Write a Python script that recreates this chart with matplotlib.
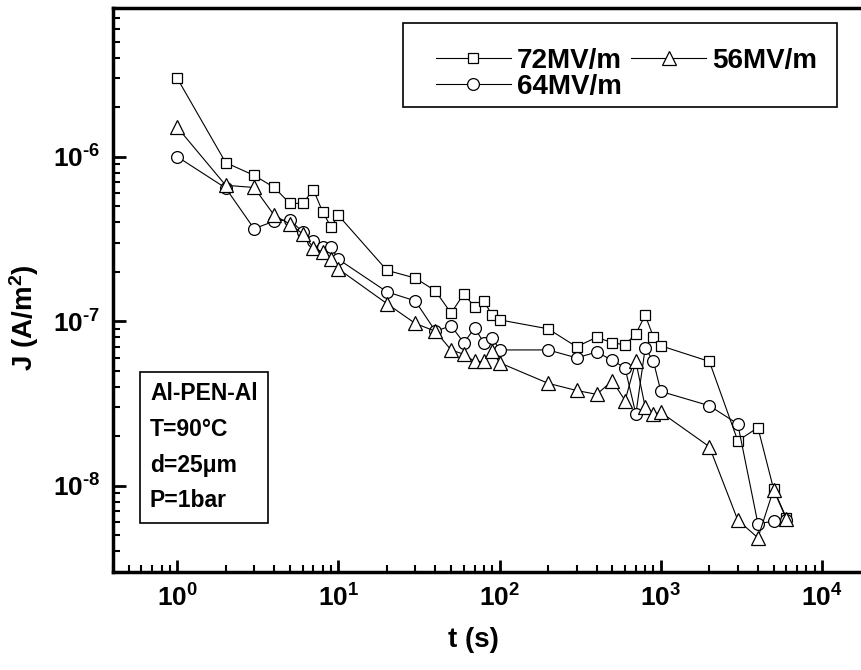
import math
import matplotlib
matplotlib.use("Agg")
import matplotlib.pyplot as plt
from matplotlib.patches import Rectangle
from matplotlib.ticker import LogLocator, FuncFormatter, NullFormatter

plt.rcParams["font.family"] = ["Liberation Sans", "DejaVu Sans"]
plt.rcParams["font.weight"] = "bold"
plt.rcParams["mathtext.fontset"] = "custom"
plt.rcParams["mathtext.rm"] = "Liberation Sans:bold"
plt.rcParams["mathtext.bf"] = "Liberation Sans:bold"
plt.rcParams["mathtext.it"] = "Liberation Sans:bold"

# time points (s)
t = [1, 2, 3, 4, 5, 6, 7, 8, 9, 10,
     20, 30, 40, 50, 60, 70, 80, 90, 100,
     200, 300, 400, 500, 600, 700, 800, 900, 1000,
     2000, 3000, 4000, 5000, 6000]

# current density (A/m^2)
j72 = [3.0e-6, 9.2e-7, 7.7e-7, 6.5e-7, 5.2e-7, 5.2e-7, 6.3e-7, 4.6e-7, 3.75e-7, 4.4e-7,
       2.04e-7, 1.83e-7, 1.53e-7, 1.12e-7, 1.47e-7, 1.22e-7, 1.32e-7, 1.09e-7, 1.02e-7,
       9.0e-8, 7.0e-8, 8.0e-8, 7.4e-8, 7.2e-8, 8.4e-8, 1.09e-7, 8.0e-8, 7.1e-8,
       5.7e-8, 1.88e-8, 2.26e-8, 9.6e-9, 6.4e-9]
j56 = [1.51e-6, 6.7e-7, 6.5e-7, 4.4e-7, 3.9e-7, 3.4e-7, 2.8e-7, 2.63e-7, 2.4e-7, 2.08e-7,
       1.28e-7, 9.7e-8, 8.7e-8, 6.7e-8, 6.3e-8, 5.7e-8, 5.7e-8, 6.6e-8, 5.6e-8,
       4.2e-8, 3.8e-8, 3.6e-8, 4.35e-8, 3.3e-8, 5.7e-8, 3.0e-8, 2.73e-8, 2.8e-8,
       1.73e-8, 6.2e-9, 4.84e-9, 9.5e-9, 6.3e-9]
j64 = [1.0e-6, 6.45e-7, 3.65e-7, 4.06e-7, 4.15e-7, 3.48e-7, 3.07e-7, 2.84e-7, 2.82e-7, 2.38e-7,
       1.51e-7, 1.33e-7, 8.7e-8, 9.4e-8, 7.4e-8, 9.1e-8, 7.4e-8, 7.9e-8, 6.7e-8,
       6.7e-8, 6.0e-8, 6.5e-8, 5.8e-8, 5.2e-8, 2.73e-8, 6.9e-8, 5.7e-8, 3.75e-8,
       3.07e-8, 2.38e-8, 5.9e-9, 6.1e-9, 6.2e-9]

fig = plt.figure(figsize=(8.62, 6.70), dpi=100)
# the right part of the frame is cut off in the original
ax = fig.add_axes([113 / 862, 98 / 670, 786 / 862, 564 / 670])

style = dict(color="black", lw=0.8, mfc="white", mec="black", mew=0.9)
ax.plot(t, j72, marker="s", ms=7.5, label="72MV/m", **style)
ax.plot(t, j64, marker="o", ms=8.5, label="64MV/m", **style)
ax.plot(t, j56, marker="^", ms=9.5, label="56MV/m", **style)

ax.set_xscale("log")
ax.set_yscale("log")
ax.set_xlim(0.4, 3e4)
ax.set_ylim(3e-9, 8e-6)

for s in ax.spines.values():
    s.set_linewidth(2.5)


def pow10(v, pos):
    e = round(math.log10(v))
    if e < 0:
        return r"$\mathbf{10^{\text{-}%d}}$" % (-e)
    return r"$\mathbf{10^{%d}}$" % e


ax.xaxis.set_major_locator(LogLocator(base=10, numticks=20))
ax.xaxis.set_minor_locator(LogLocator(base=10, subs=range(2, 10), numticks=20))
ax.yaxis.set_major_locator(LogLocator(base=10, numticks=20))
ax.yaxis.set_minor_locator(LogLocator(base=10, subs=range(2, 10), numticks=20))
ax.xaxis.set_major_formatter(FuncFormatter(pow10))
ax.yaxis.set_major_formatter(FuncFormatter(pow10))
ax.xaxis.set_minor_formatter(NullFormatter())
ax.yaxis.set_minor_formatter(NullFormatter())
ax.tick_params(which="major", direction="in", length=9, width=2, labelsize=19, pad=9)
ax.tick_params(which="minor", direction="in", length=5, width=1.5)

fig.text(473 / 862, 1 - 640 / 670, "t (s)", fontsize=20, fontweight="bold",
         ha="center", va="center")
fig.text(24 / 862, 1 - 318 / 670, "J (A/m$^\\mathbf{2}$)", fontsize=20, fontweight="bold",
         ha="center", va="center", rotation=90)

# legend frame drawn separately (padding in the original is not symmetric)
fig.patches.append(Rectangle((403 / 862, 1 - 107 / 670), 434 / 862, 84 / 670,
                             transform=fig.transFigure, fill=False, ec="black", lw=1.2))
fig.legend(loc="upper left", bbox_to_anchor=(436 / 862, 1 - 48 / 670), borderaxespad=0,
           ncol=2, fontsize=20, frameon=False,
           handlelength=2.7, handletextpad=0.2, columnspacing=0.35, borderpad=0,
           labelspacing=0.0, numpoints=1)

ax.text(0.047, 0.336, "Al-PEN-Al\nT=90°C\nd=25μm\nP=1bar", transform=ax.transAxes,
        fontsize=16.5, fontweight="bold", va="top", ha="left", linespacing=1.7,
        bbox=dict(boxstyle="square,pad=0.45", fc="white", ec="black", lw=1.2))

fig.savefig("out.png", dpi=100)
